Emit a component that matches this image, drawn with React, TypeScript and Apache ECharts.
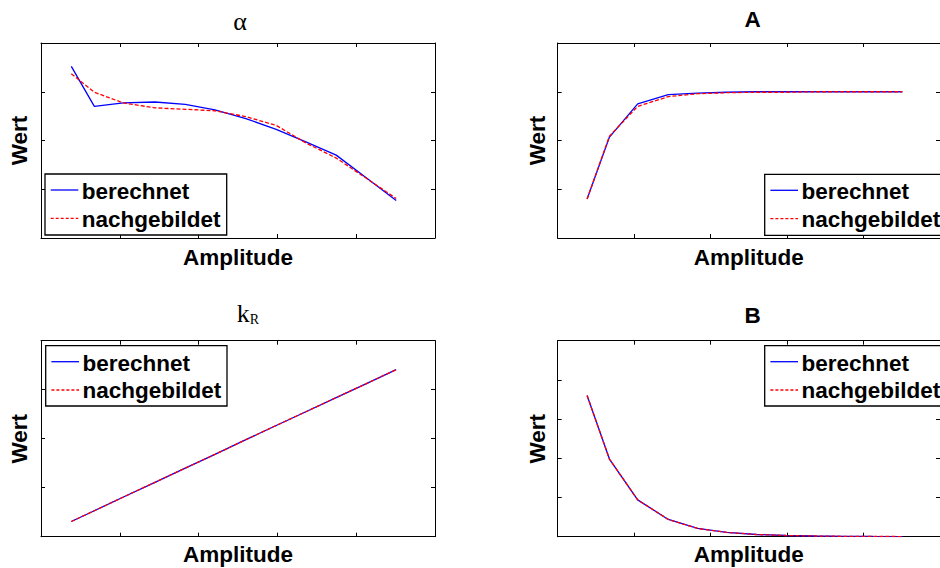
import React, { useEffect, useRef } from "react";
import * as echarts from "echarts";

// ---- data ----
const amplitude = [5, 8.8, 13.6, 18.8, 23.8, 28.7, 33.8, 38.8, 43.7, 48.7, 53.6, 58.6];

const alphaBerechnet = [3.52, 2.7, 2.77, 2.79, 2.74, 2.63, 2.45, 2.23, 1.97, 1.7, 1.24, 0.77];
const alphaNachgebildet = [3.37, 2.99, 2.77, 2.67, 2.64, 2.61, 2.49, 2.31, 1.95, 1.64, 1.23, 0.81];

const aBerechnet = [0.8, 2.07, 2.75, 2.94, 2.97, 2.99, 3.0, 3.0, 3.0, 3.0, 3.0, 3.0];
const aNachgebildet = [0.8, 2.09, 2.7, 2.9, 2.96, 2.98, 2.99, 2.99, 3.0, 3.0, 3.0, 3.0];

const kBerechnet = [0.31, 0.53, 0.81, 1.11, 1.4, 1.68, 1.98, 2.27, 2.55, 2.84, 3.12, 3.41];
const kNachgebildet = [0.31, 0.53, 0.81, 1.11, 1.4, 1.68, 1.98, 2.27, 2.55, 2.84, 3.12, 3.41];

const bBerechnet = [3.6, 1.98, 0.94, 0.44, 0.21, 0.11, 0.056, 0.03, 0.018, 0.01, 0.006, 0.004];
const bNachgebildet = [3.6, 1.98, 0.94, 0.44, 0.21, 0.11, 0.056, 0.03, 0.018, 0.01, 0.006, 0.004];

const seriesNames = ["berechnet", "nachgebildet"];
const xAxisName = "Amplitude";
const yAxisName = "Wert";
const xMax = 65;
const xInterval = 13;
const yMaxes = [4, 4, 4, 5];

const SANS = '"Liberation Sans", Arial, Helvetica, sans-serif';
const SERIF = '"Liberation Serif", "Times New Roman", serif';
const FS = 22.5;

const grids = [
  { left: 41, top: 43, width: 394, height: 195 },
  { left: 557.7, top: 43, width: 391.5, height: 195 },
  { left: 41, top: 340.7, width: 394, height: 196 },
  { left: 557.7, top: 340.7, width: 391.5, height: 196 },
];
const xNameGaps = [8.15, 8.15, 6.75, 6.75];
const yNameGaps = [9.95, 8.95, 9.95, 8.95];

const panels = [
  [alphaBerechnet, alphaNachgebildet],
  [aBerechnet, aNachgebildet],
  [kBerechnet, kNachgebildet],
  [bBerechnet, bNachgebildet],
];

function zip(xs: number[], ys: number[]) {
  return xs.map((x, i) => [x, ys[i]]);
}

const axisCommon = {
  type: "value" as const,
  axisLine: { show: true, onZero: false, lineStyle: { color: "#000", width: 1 } },
  axisTick: { show: true, inside: true, length: 4, lineStyle: { color: "#000", width: 1 } },
  axisLabel: { show: false },
  splitLine: { show: false },
};

function legendEls(bx: number, by: number, w: number, h: number) {
  const txt = (t: string, y: number) => ({
    type: "text",
    x: bx + 36.7,
    y,
    z: 101,
    style: {
      text: t,
      fontSize: FS,
      fontWeight: "bold",
      fontFamily: SANS,
      fill: "#000",
      align: "left",
      verticalAlign: "middle",
    },
  });
  return [
    {
      type: "rect",
      z: 100,
      shape: { x: bx, y: by, width: w, height: h },
      style: { fill: "#fff", stroke: "#000", lineWidth: 1.3 },
    },
    {
      type: "line",
      z: 101,
      shape: { x1: bx + 5.7, y1: by + 16, x2: bx + 33.3, y2: by + 16 },
      style: { stroke: "#0000ff", lineWidth: 1.3 },
    },
    {
      type: "line",
      z: 101,
      shape: { x1: bx + 5.7, y1: by + 44.3, x2: bx + 33.3, y2: by + 44.3 },
      style: { stroke: "#ff0000", lineWidth: 1.3, lineDash: [3, 2] },
    },
    txt(seriesNames[0], by + 17.5),
    txt(seriesNames[1], by + 45),
  ];
}

export default function App() {
  const ref = useRef<HTMLDivElement>(null);
  useEffect(() => {
    if (!ref.current) return;
    const chart = echarts.init(ref.current, undefined, { renderer: "svg" });

    const xAxis: any[] = [];
    const yAxis: any[] = [];
    const series: any[] = [];
    grids.forEach((_, i) => {
      xAxis.push({
        ...axisCommon,
        gridIndex: i,
        position: "bottom",
        min: 0,
        max: xMax,
        interval: xInterval,
        name: xAxisName,
        nameLocation: "middle",
        nameGap: xNameGaps[i],
        nameTextStyle: { fontSize: FS, fontWeight: "bold", fontFamily: SANS, color: "#000" },
      });
      xAxis.push({ ...axisCommon, gridIndex: i, position: "top", min: 0, max: xMax, interval: xInterval });
      yAxis.push({
        ...axisCommon,
        gridIndex: i,
        position: "left",
        min: 0,
        max: yMaxes[i],
        interval: 1,
        name: yAxisName,
        nameLocation: "middle",
        nameGap: yNameGaps[i],
        nameTextStyle: { fontSize: FS, fontWeight: "bold", fontFamily: SANS, color: "#000" },
      });
      yAxis.push({ ...axisCommon, gridIndex: i, position: "right", min: 0, max: yMaxes[i], interval: 1 });
      const [calc, model] = panels[i];
      series.push({
        type: "line",
        name: seriesNames[0],
        xAxisIndex: 2 * i,
        yAxisIndex: 2 * i,
        data: zip(amplitude, calc),
        symbol: "none",
        lineStyle: { color: "#0000ff", width: 1.3 },
        itemStyle: { color: "#0000ff" },
        z: 2,
      });
      series.push({
        type: "line",
        name: seriesNames[1],
        xAxisIndex: 2 * i,
        yAxisIndex: 2 * i,
        data: zip(amplitude, model),
        symbol: "none",
        lineStyle: { color: "#ff0000", width: 1.3, type: [4, 2] },
        itemStyle: { color: "#ff0000" },
        z: 3,
      });
    });

    const graphic: any[] = [
      {
        type: "text",
        x: 240,
        y: 21.2,
        style: { text: "α", fontSize: 26, fontFamily: SERIF, fill: "#000", align: "center", verticalAlign: "middle" },
      },
      {
        type: "text",
        x: 752.7,
        y: 19.1,
        style: { text: "A", fontSize: FS, fontWeight: "bold", fontFamily: SANS, fill: "#000", align: "center", verticalAlign: "middle" },
      },
      {
        type: "text",
        x: 248,
        y: 313.5,
        style: {
          text: "{k|k}{r|R}",
          align: "center",
          verticalAlign: "middle",
          fill: "#000",
          rich: {
            k: { fontSize: 26, fontFamily: SERIF, fill: "#000" },
            r: { fontSize: 14, fontFamily: SERIF, fill: "#000", verticalAlign: "bottom" },
          },
        },
      },
      {
        type: "text",
        x: 752.7,
        y: 315.4,
        style: { text: "B", fontSize: FS, fontWeight: "bold", fontFamily: SANS, fill: "#000", align: "center", verticalAlign: "middle" },
      },
      ...legendEls(45, 174, 181.7, 61),
      ...legendEls(764.7, 174.3, 220, 61),
      ...legendEls(45.7, 345.7, 181.3, 60.3),
      ...legendEls(764.7, 345.7, 220, 60.3),
    ];

    chart.setOption({
      animation: false,
      backgroundColor: "#fff",
      grid: grids.map((g) => ({ ...g, containLabel: false })),
      xAxis,
      yAxis,
      series,
      graphic,
    });
    return () => chart.dispose();
  }, []);
  return (
    <div
      ref={ref}
      style={{ position: "fixed", left: 0, top: 0, width: 940, height: 568, background: "#fff" }}
    />
  );
}
